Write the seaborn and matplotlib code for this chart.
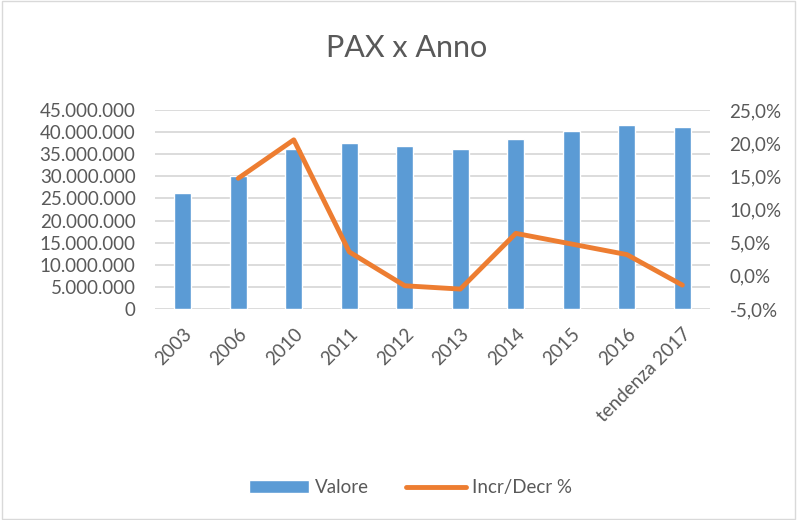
import matplotlib
matplotlib.use("Agg")
import matplotlib.pyplot as plt
import matplotlib.ticker as mticker
import numpy as np
import pandas as pd
import seaborn as sns

anni = ["2003", "2006", "2010", "2011", "2012", "2013", "2014", "2015", "2016", "tendenza 2017"]
valore = [26.2e6, 30.1e6, 36.2e6, 37.6e6, 36.9e6, 36.2e6, 38.5e6, 40.3e6, 41.7e6, 41.1e6]
incr_decr = [np.nan, 14.7, 20.5, 3.6, -1.5, -2.0, 6.4, 4.8, 3.2, -1.4]

df = pd.DataFrame({"Anno": anni, "Valore": valore, "Incr": incr_decr})

sns.set_style("white")
plt.rcParams["font.family"] = ["Lato", "DejaVu Sans"]
text_col = "#595959"
grid_col = "#d9d9d9"
blue = "#5b9bd5"
orange = "#ed7d31"

fig = plt.figure(figsize=(7.97, 5.20), dpi=100)
ax = fig.add_axes([0.1945, 0.4058, 0.6965, 0.3827])

sns.barplot(data=df, x="Anno", y="Valore", color=blue, width=0.31,
            saturation=1, ax=ax, label="Valore")
if ax.get_legend() is not None:
    ax.get_legend().remove()
ax.set_ylim(0, 45e6)
ax.set_xlim(-0.5, 9.5)
ax.yaxis.set_major_locator(mticker.MultipleLocator(5e6))
ax.yaxis.set_major_formatter(mticker.FuncFormatter(
    lambda v, p: f"{int(round(v)):,}".replace(",", ".")))
ax.grid(axis="y", color=grid_col, linewidth=1.3)
ax.set_axisbelow(True)
for s in ax.spines.values():
    s.set_visible(False)
ax.set_xlabel("")
ax.set_ylabel("")
ax.tick_params(axis="both", length=0, labelsize=13.5, colors=text_col)
ax.tick_params(axis="y", pad=14)
ax.tick_params(axis="x", pad=12)
plt.setp(ax.get_xticklabels(), rotation=45, ha="right", rotation_mode="anchor")

ax2 = ax.twinx()
sns.lineplot(data=df, x="Anno", y="Incr", color=orange, linewidth=3.5,
             ax=ax2, label="Incr/Decr %", legend=False)
ax2.set_ylim(-5, 25)
ax2.set_xlim(-0.5, 9.5)
ax2.yaxis.set_major_locator(mticker.MultipleLocator(5))
ax2.yaxis.set_major_formatter(mticker.FuncFormatter(
    lambda v, p: f"{v:.1f}%".replace(".", ",")))
for s in ax2.spines.values():
    s.set_visible(False)
ax2.set_ylabel("")
ax2.tick_params(axis="y", length=0, labelsize=13.5, colors=text_col, pad=14)

fig.suptitle("PAX x Anno", x=0.51, y=0.935, fontsize=22, color=text_col)

h1, l1 = ax.get_legend_handles_labels()
h2, l2 = ax2.get_legend_handles_labels()
fig.legend(h1 + h2, l1 + l2, loc="center", bbox_to_anchor=(0.515, 0.062),
           ncol=2, frameon=False, fontsize=13.5, labelcolor=text_col,
           handlelength=3.2, columnspacing=2.0, handletextpad=0.3)

fig.patches.append(plt.Rectangle((0.002, 0.002), 0.996, 0.996, transform=fig.transFigure,
                                 fill=False, edgecolor="#d9d9d9", linewidth=1))

fig.savefig("out.png", dpi=100)
